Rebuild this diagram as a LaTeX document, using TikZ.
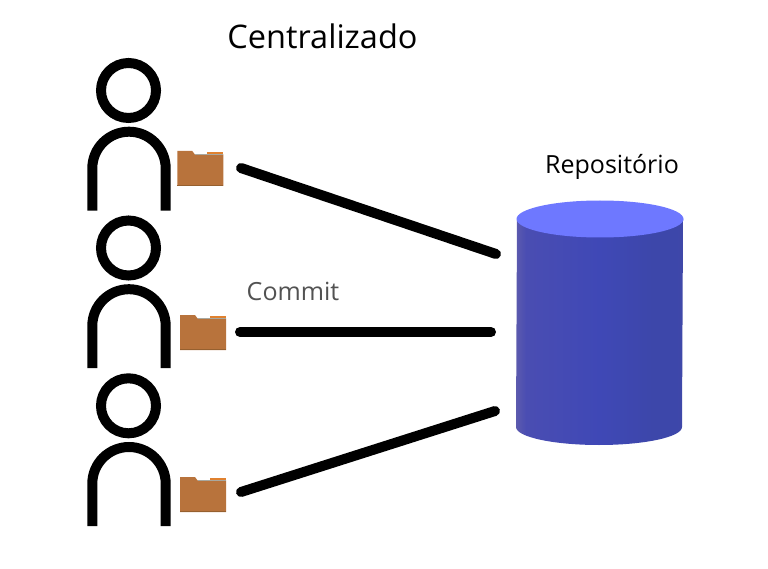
\documentclass[tikz,border=0pt]{standalone}
\usepackage{fontspec}
\setmainfont{Open Sans}
\definecolor{folderbody}{HTML}{B8733C}
\definecolor{foldertab}{HTML}{E0812F}
\definecolor{foldergrey}{HTML}{A8A8A0}
\definecolor{folderedge}{HTML}{96602F}
\definecolor{cyltop}{HTML}{6E78FF}
\definecolor{cylA}{HTML}{5C5AAE}
\definecolor{cylB}{HTML}{4A4DB2}
\definecolor{cylC}{HTML}{3F48B6}
\definecolor{cylD}{HTML}{3D47AA}
\definecolor{cylE}{HTML}{4048A8}
\pgfdeclarehorizontalshading{cylshade}{100bp}{color(0bp)=(cylA); color(25bp)=(cylA); color(28bp)=(cylB); color(50bp)=(cylC); color(66bp)=(cylD); color(73bp)=(cylD); color(75bp)=(cylE); color(100bp)=(cylE)}
\tikzset{
  x=1pt,y=-1pt,
  linkline/.style={line width=10pt,line cap=round,black},
  personline/.style={line width=10pt,black},
  labeltext/.style={inner sep=0pt,anchor=base},
  pics/person/.style={code={
    \draw[personline] (36.2,-120.2) circle[radius=27.5];
    \draw[personline] (0,0) -- (0,-42.3) arc[start angle=180,end angle=360,x radius=36.7,y radius=36.7] -- (73.4,0);
  }},
  pics/folder/.style={code={
    \fill[folderbody] (0,0) -- (15,0) -- (17.5,3.4) -- (46,3.4) -- (46,35) -- (0,35) -- cycle;
    \fill[foldertab] (30,0.8) -- (46,0.8) -- (46,3.4) -- (30,3.4) -- cycle;
    \fill[foldergrey] (17.5,3) rectangle (46,4);
    \fill[folderedge] (0,34.2) rectangle (46,35);
  }}
}
\begin{document}
\begin{tikzpicture}
\useasboundingbox (0,0) rectangle (768,569);
% people
\pic at (92.3,210.7) {person};
\pic at (92.3,368.2) {person};
\pic at (92.3,526) {person};
% folders
\pic at (177.3,151) {folder};
\pic at (180,315) {folder};
\pic at (180,477) {folder};
% cylinder
\shade[shading=cylshade]
  (517,219) -- (516,427) arc[start angle=180,end angle=0,x radius=83,y radius=18] -- (683,219) -- cycle;
\fill[cyltop] (600,219) ellipse[x radius=83.5,y radius=18.5];
% connector ends
\coordinate (u1) at (241,168);
\coordinate (u2) at (240,332);
\coordinate (u3) at (241,492);
\coordinate (r1) at (496,254);
\coordinate (r2) at (491,332);
\coordinate (r3) at (495,411);
\draw[linkline] (u1) -- (r1);
\draw[linkline] (u2) -- (r2);
\draw[linkline] (u3) -- (r3);
% labels
\node[labeltext,font=\fontsize{32.5}{38}\selectfont] (title) at (322.5,49) {Centralizado};
\node[labeltext,font=\fontsize{25}{30}\selectfont] (repo) at (612,174) {Repositório};
\node[labeltext,font=\fontsize{25}{30}\selectfont,text=black!68] (commit) at (293,300.5) {Commit};
\end{tikzpicture}
\end{document}
